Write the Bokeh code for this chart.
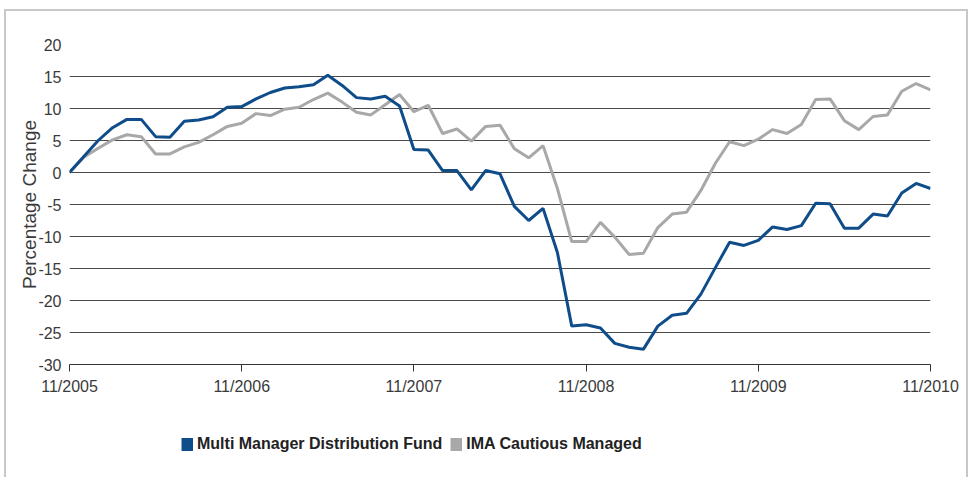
from bokeh.plotting import figure
from bokeh.layouts import column
from bokeh.models import Range1d, FixedTicker, Legend, LegendItem
from bokeh.embed import file_html
from bokeh.resources import INLINE

months = list(range(61))
tick_positions = [0, 12, 24, 36, 48, 60]
tick_labels = ["11/2005", "11/2006", "11/2007", "11/2008", "11/2009", "11/2010"]
y_ticks = [-30, -25, -20, -15, -10, -5, 0, 5, 10, 15, 20]
y_tick_labels = ["-30", "-25", "-20", "-15", "-10", "-5", "0", "5", "10", "15", "20"]

multi_manager = [0, 2.5, 5.0, 7.0, 8.3, 8.3, 5.6, 5.5, 8.0, 8.2, 8.7,
                 10.2, 10.3, 11.5, 12.5, 13.2, 13.4, 13.7, 15.2, 13.6, 11.7,
                 11.5, 11.9, 10.4, 3.6, 3.5, 0.3, 0.3, -2.7, 0.3, -0.2,
                 -5.3, -7.5, -5.6, -12.5, -24.0, -23.8, -24.3, -26.7, -27.3, -27.6,
                 -24.0, -22.3, -22.0, -19.0, -14.9, -10.9, -11.4, -10.6, -8.5, -8.9,
                 -8.3, -4.8, -4.9, -8.7, -8.7, -6.5, -6.8, -3.2, -1.7, -2.5]
ima_cautious = [0, 2.4, 3.8, 5.1, 5.9, 5.6, 2.9, 2.9, 4.0, 4.7, 5.9,
                7.2, 7.7, 9.2, 8.9, 9.9, 10.2, 11.4, 12.4, 11.0, 9.4,
                9.0, 10.6, 12.2, 9.5, 10.5, 6.1, 6.8, 4.9, 7.2, 7.4,
                3.7, 2.3, 4.2, -2.5, -10.8, -10.8, -7.8, -10.1, -12.8, -12.6,
                -8.6, -6.5, -6.2, -2.8, 1.4, 4.8, 4.2, 5.2, 6.7, 6.1,
                7.5, 11.4, 11.5, 8.1, 6.7, 8.75, 9.0, 12.7, 13.9, 12.9]

series_names = ["Multi Manager Distribution Fund", "IMA Cautious Managed"]
blue = "#0f4c8a"
grey = "#a8a8a8"
FONT = "Liberation Sans"

p = figure(width=968, height=408, output_backend="svg", toolbar_location=None,
           x_range=Range1d(0, 60), y_range=Range1d(-30, 20),
           min_border_left=69, min_border_right=38, min_border_top=44, min_border_bottom=44)
p.outline_line_color = None
p.background_fill_color = "white"
p.border_fill_color = None

p.xgrid.visible = False
p.ygrid.ticker = FixedTicker(ticks=y_ticks)
p.ygrid.grid_line_color = "#4a4a4a"
p.ygrid.grid_line_width = 1

p.line(months, ima_cautious, line_color=grey, line_width=3)
p.line(months, multi_manager, line_color=blue, line_width=3)

xa = p.xaxis[0]
xa.ticker = FixedTicker(ticks=tick_positions)
xa.major_label_overrides = {t: l for t, l in zip(tick_positions, tick_labels)}
xa.axis_line_color = "#333333"
xa.major_tick_line_color = "#333333"
xa.major_tick_out = 7
xa.major_tick_in = 0
xa.minor_tick_line_color = None
xa.major_label_standoff = 6
xa.major_label_text_font = FONT
xa.major_label_text_font_size = "16px"
xa.major_label_text_color = "#3a3a3a"

ya = p.yaxis[0]
ya.ticker = FixedTicker(ticks=y_ticks)
ya.major_label_overrides = {t: l for t, l in zip(y_ticks, y_tick_labels)}
ya.axis_line_color = None
ya.major_tick_line_color = None
ya.minor_tick_line_color = None
ya.major_tick_out = 0
ya.major_label_standoff = 8
ya.major_label_text_font = FONT
ya.major_label_text_font_size = "16px"
ya.major_label_text_color = "#3a3a3a"
ya.axis_label = "Percentage Change"
ya.axis_label_text_font = FONT
ya.axis_label_text_font_size = "19px"
ya.axis_label_text_font_style = "normal"
ya.axis_label_text_color = "#3a3a3a"
ya.axis_label_standoff = -5

# legend strip below the chart
pl = figure(width=968, height=69, output_backend="svg", toolbar_location=None,
            x_range=Range1d(0, 1), y_range=Range1d(0, 1),
            x_axis_location=None, y_axis_location=None,
            min_border_left=0, min_border_right=0, min_border_top=0, min_border_bottom=0)
pl.outline_line_color = None
pl.background_fill_color = None
pl.border_fill_color = None
pl.xgrid.visible = False
pl.ygrid.visible = False
# swatch renderers: single-point lines draw nothing themselves, only their legend swatches
r_blue = pl.line(x=months[:1], y=multi_manager[:1], line_color=blue, line_width=13, line_cap="butt")
r_grey = pl.line(x=months[:1], y=ima_cautious[:1], line_color=grey, line_width=13, line_cap="butt")

lg = Legend(items=[LegendItem(label=series_names[0], renderers=[r_blue]),
                   LegendItem(label=series_names[1], renderers=[r_grey])],
            orientation="horizontal", location=(112, 24))
lg.border_line_color = None
lg.background_fill_alpha = 0
lg.padding = 0
lg.margin = 0
lg.spacing = 8
lg.glyph_width = 12
lg.glyph_height = 14
lg.label_standoff = 4
lg.label_text_font = FONT
lg.label_text_font_size = "16px"
lg.label_text_font_style = "bold"
lg.label_text_color = "#222222"
pl.add_layout(lg, "center")

layout = column(p, pl, spacing=0,
                styles={"box-shadow": "inset 4px 9px 0 0 #ffffff, inset 6px 11px 0 0 #c8c8c8, "
                                      "inset -2px 0 0 0 #c8c8c8",
                        "background-color": "#ffffff"})
open("out.html", "w").write(file_html(layout, INLINE))
